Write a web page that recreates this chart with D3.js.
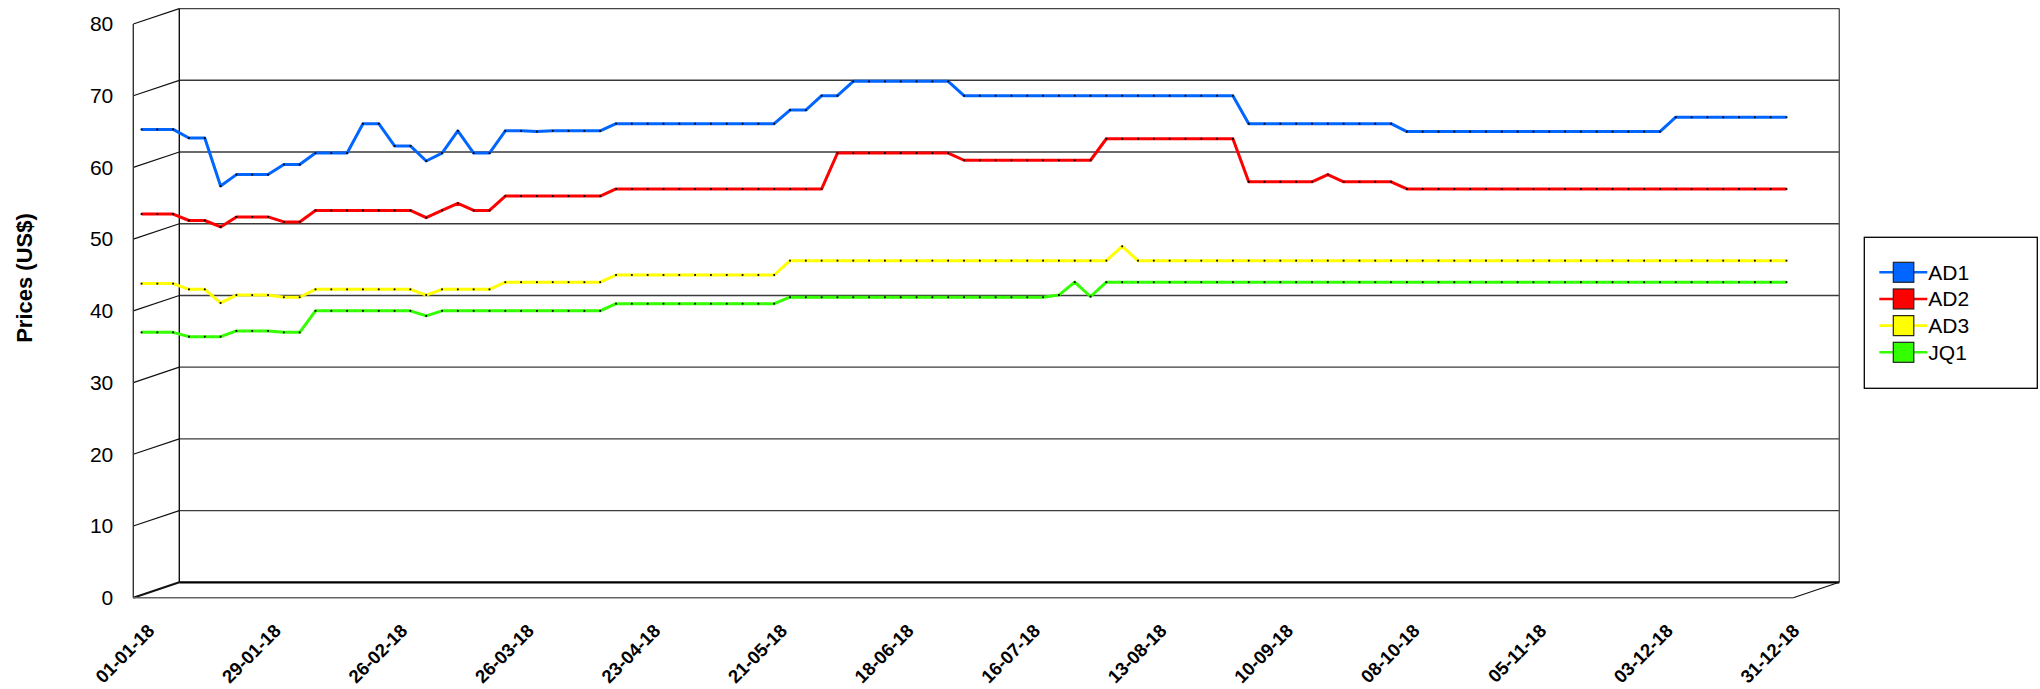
<!DOCTYPE html>
<html>
<head>
<meta charset="utf-8">
<script src="https://cdn.jsdelivr.net/npm/d3@7"></script>
<style>
html,body{margin:0;padding:0;background:#fff;}
svg{display:block;}
</style>
</head>
<body>
<svg id="chart" width="2040" height="689"></svg>
<script>
// ---------- DATA ----------
const categories = d3.range(105); // twice-weekly observations, 01-01-18 .. 31-12-18
const tickLabels = ["01-01-18","29-01-18","26-02-18","26-03-18","23-04-18","21-05-18","18-06-18",
  "16-07-18","13-08-18","10-09-18","08-10-18","05-11-18","03-12-18","31-12-18"];
const yTicks = [0,10,20,30,40,50,60,70,80];
const seriesNames = ["AD1","AD2","AD3","JQ1"];
const seriesColors = ["#0066ff","#ff0000","#ffff00","#33ff00"];

const AD1 = [65.3,65.3,65.3,64.1,64.1,57.4,59.0,59.0,59.0,60.4,60.4,62.0,62.0,62.0,66.1,66.1,63.0,63.0,60.9,62.0,
  65.1,62.0,62.0,65.1,65.1,65.0,65.1,65.1,65.1,65.1,66.1,66.1,66.1,66.1,66.1,66.1,66.1,66.1,66.1,66.1,
  66.1,68.0,68.0,70.0,70.0,72.0,72.0,72.0,72.0,72.0,72.0,72.0,70.0,70.0,70.0,70.0,70.0,70.0,70.0,70.0,
  70.0,70.0,70.0,70.0,70.0,70.0,70.0,70.0,70.0,70.0,66.1,66.1,66.1,66.1,66.1,66.1,66.1,66.1,66.1,66.1,
  65.0,65.0,65.0,65.0,65.0,65.0,65.0,65.0,65.0,65.0,65.0,65.0,65.0,65.0,65.0,65.0,65.0,67.0,67.0,67.0,
  67.0,67.0,67.0,67.0,67.0];
const AD2 = [53.5,53.5,53.5,52.6,52.6,51.7,53.1,53.1,53.1,52.4,52.4,54.0,54.0,54.0,54.0,54.0,54.0,54.0,53.0,54.0,
  55.0,54.0,54.0,56.0,56.0,56.0,56.0,56.0,56.0,56.0,57.0,57.0,57.0,57.0,57.0,57.0,57.0,57.0,57.0,57.0,
  57.0,57.0,57.0,57.0,62.0,62.0,62.0,62.0,62.0,62.0,62.0,62.0,61.0,61.0,61.0,61.0,61.0,61.0,61.0,61.0,
  61.0,64.0,64.0,64.0,64.0,64.0,64.0,64.0,64.0,64.0,58.0,58.0,58.0,58.0,58.0,59.0,58.0,58.0,58.0,58.0,
  57.0,57.0,57.0,57.0,57.0,57.0,57.0,57.0,57.0,57.0,57.0,57.0,57.0,57.0,57.0,57.0,57.0,57.0,57.0,57.0,
  57.0,57.0,57.0,57.0,57.0];
const AD3 = [43.8,43.8,43.8,43.0,43.0,41.1,42.2,42.2,42.2,41.9,41.9,43.0,43.0,43.0,43.0,43.0,43.0,43.0,42.2,43.0,
  43.0,43.0,43.0,44.0,44.0,44.0,44.0,44.0,44.0,44.0,45.0,45.0,45.0,45.0,45.0,45.0,45.0,45.0,45.0,45.0,
  45.0,47.0,47.0,47.0,47.0,47.0,47.0,47.0,47.0,47.0,47.0,47.0,47.0,47.0,47.0,47.0,47.0,47.0,47.0,47.0,
  47.0,47.0,49.0,47.0,47.0,47.0,47.0,47.0,47.0,47.0,47.0,47.0,47.0,47.0,47.0,47.0,47.0,47.0,47.0,47.0,
  47.0,47.0,47.0,47.0,47.0,47.0,47.0,47.0,47.0,47.0,47.0,47.0,47.0,47.0,47.0,47.0,47.0,47.0,47.0,47.0,
  47.0,47.0,47.0,47.0,47.0];
const JQ1 = [37.0,37.0,37.0,36.4,36.4,36.4,37.2,37.2,37.2,37.0,37.0,40.0,40.0,40.0,40.0,40.0,40.0,40.0,39.3,40.0,
  40.0,40.0,40.0,40.0,40.0,40.0,40.0,40.0,40.0,40.0,41.0,41.0,41.0,41.0,41.0,41.0,41.0,41.0,41.0,41.0,
  41.0,41.9,41.9,41.9,41.9,41.9,41.9,41.9,41.9,41.9,41.9,41.9,41.9,41.9,41.9,41.9,41.9,41.9,42.2,44.0,
  42.0,44.0,44.0,44.0,44.0,44.0,44.0,44.0,44.0,44.0,44.0,44.0,44.0,44.0,44.0,44.0,44.0,44.0,44.0,44.0,
  44.0,44.0,44.0,44.0,44.0,44.0,44.0,44.0,44.0,44.0,44.0,44.0,44.0,44.0,44.0,44.0,44.0,44.0,44.0,44.0,
  44.0,44.0,44.0,44.0,44.0];
const seriesValues = [AD1, AD2, AD3, JQ1];

// ---------- LAYOUT ----------
const svg = d3.select("#chart");
const front = {left:133.3, right:1793.3, top:24, bottom:597.7};
const depth = {dx:46, dy:-15.4};
const FONT = "'Liberation Sans', Arial, Helvetica, sans-serif";

const y = d3.scaleLinear().domain([0,80]).range([front.bottom, front.top]);
const x = d3.scalePoint().domain(categories).range([141.5, 1786.5]);

const g = svg.append("g");
const bx = v => v + depth.dx, by = v => v + depth.dy;

// back wall gridlines
g.selectAll("line.grid").data(yTicks.filter(t => t>0 && t<80)).join("line")
  .attr("x1", bx(front.left)).attr("x2", bx(front.right))
  .attr("y1", d => by(y(d))).attr("y2", d => by(y(d)))
  .attr("stroke","#3a3a3a").attr("stroke-width",1.4);
// back wall top
g.append("line").attr("x1",bx(front.left)).attr("x2",bx(front.right))
  .attr("y1",by(y(80))).attr("y2",by(y(80))).attr("stroke","#444").attr("stroke-width",1.4);
// back wall right edge
g.append("line").attr("x1",bx(front.right)).attr("x2",bx(front.right))
  .attr("y1",by(y(80))).attr("y2",by(y(0))).attr("stroke","#555").attr("stroke-width",1.4);
// back wall left edge
g.append("line").attr("x1",bx(front.left)).attr("x2",bx(front.left))
  .attr("y1",by(y(80))).attr("y2",by(y(0))).attr("stroke","#111").attr("stroke-width",1.4);
// left wall slants
g.selectAll("line.slant").data(yTicks).join("line")
  .attr("x1", front.left).attr("x2", bx(front.left))
  .attr("y1", d => y(d)).attr("y2", d => by(y(d)))
  .attr("stroke","#111").attr("stroke-width", d => d===0 ? 2 : 1.2);
// front axis line
g.append("line").attr("x1",front.left).attr("x2",front.left)
  .attr("y1",y(80)).attr("y2",y(0)).attr("stroke","#333").attr("stroke-width",1.4);
// floor
g.append("line").attr("x1",front.left).attr("x2",front.right)
  .attr("y1",y(0)).attr("y2",y(0)).attr("stroke","#666").attr("stroke-width",1.6);
g.append("line").attr("x1",bx(front.left)).attr("x2",bx(front.right))
  .attr("y1",by(y(0))).attr("y2",by(y(0))).attr("stroke","#000").attr("stroke-width",2.2);
g.append("line").attr("x1",front.right).attr("x2",bx(front.right))
  .attr("y1",y(0)).attr("y2",by(y(0))).attr("stroke","#111").attr("stroke-width",1.2);

// y axis labels
const yAxis = d3.axisLeft(y).tickValues(yTicks).tickSize(0).tickPadding(20).tickFormat(d3.format("d"));
const ya = svg.append("g").attr("transform",`translate(${front.left},0)`).call(yAxis);
ya.select(".domain").remove();
ya.selectAll("text").attr("font-family",FONT).attr("font-size",21).attr("fill","#000");

// y axis title
svg.append("text").attr("transform",`translate(24,278) rotate(-90)`)
  .attr("text-anchor","middle").attr("dominant-baseline","central")
  .attr("font-family",FONT).attr("font-weight","bold")
  .attr("font-size",22).text("Prices (US$)");

// x labels
svg.selectAll("text.xl").data(tickLabels).join("text").attr("class","xl")
  .attr("transform",(d,i)=>`translate(${x(categories[i*8])+14},632) rotate(-45)`)
  .attr("text-anchor","end")
  .attr("font-family",FONT).attr("font-weight","bold")
  .attr("font-size",18.5).text(d=>d);

// series lines
const line = d3.line().x((d,i)=>x(categories[i])).y(d=>y(d));
seriesValues.forEach((vals,k)=>{
  svg.append("path").datum(vals).attr("d",line).attr("fill","none")
    .attr("stroke",seriesColors[k]).attr("stroke-width",3).attr("stroke-linejoin","round");
});
seriesValues.forEach((vals,k)=>{
  svg.append("g").selectAll("rect").data(vals).join("rect")
    .attr("x",(d,i)=>x(categories[i])-0.9).attr("y",d=>y(d)-0.9)
    .attr("width",1.8).attr("height",1.8).attr("fill","#000");
});

// legend
const lg = svg.append("g");
lg.append("rect").attr("x",1864.3).attr("y",237.3).attr("width",173).attr("height",151)
  .attr("fill","#fff").attr("stroke","#000").attr("stroke-width",1.3);
const ly = d3.scalePoint().domain(seriesNames).range([272.3,352.3]);
seriesNames.forEach((n,k)=>{
  const cy = ly(n);
  lg.append("line").attr("x1",1879.3).attr("x2",1927.3).attr("y1",cy).attr("y2",cy)
    .attr("stroke",seriesColors[k]).attr("stroke-width",2.6);
  lg.append("rect").attr("x",1893.3).attr("y",cy-10).attr("width",20.5).attr("height",20)
    .attr("fill",seriesColors[k]).attr("stroke","#222").attr("stroke-width",1.2);
  lg.append("text").attr("x",1928.3).attr("y",cy).attr("dominant-baseline","central")
    .attr("font-family",FONT).attr("font-size",21).text(n);
});
</script>
</body>
</html>
